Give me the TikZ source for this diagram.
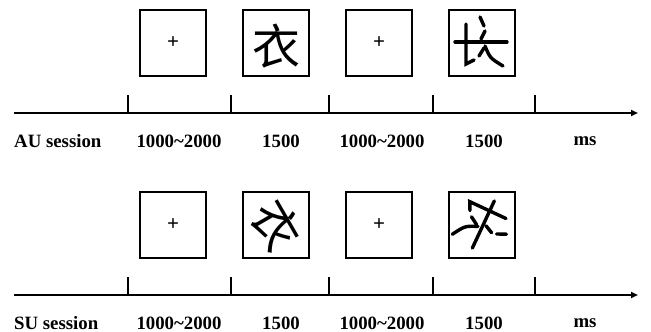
\documentclass[tikz,border=0pt]{standalone}
\usepackage{fontspec}
\setmainfont{Liberation Serif}
\newfontfamily\cjk{Noto Sans CJK SC}
\usetikzlibrary{arrows.meta, positioning}

\tikzset{
  stimbox/.style={draw, line width=2.2pt, minimum size=66pt, inner sep=0pt},
  fixcross/.style={font=\bfseries\fontsize{21}{21}\selectfont},
  hanzi/.style={font=\cjk\fontsize{48}{48}\selectfont, inner sep=0pt},
  lbl/.style={font=\bfseries\fontsize{18.8}{18.8}\selectfont, inner sep=0pt},
  timeaxis/.style={line width=1.8pt, -{Triangle[length=7pt,width=6pt]}},
  tickmark/.style={line width=1.8pt},
  pen/.style={line width=3.4pt, line cap=round}
}

% pseudocaracter
\newcommand{\pseudochar}{%
  \draw[pen] (-27,-1) -- (25,-1);
  \draw[pen] (-16,-19) -- (-16,21) -- (-8,17);
  \draw[pen] (-2,-26) -- (2,-17);
  \draw[pen] (3,-12) -- (-1,-4);
  \draw[pen] (2,5) -- (-3,13);
  \draw[pen] (3,3) .. controls (8,15) .. (21,23);
}

\begin{document}
\begin{tikzpicture}[x=1pt, y=-1pt]
\useasboundingbox (0,0) rectangle (651,332);
% Sesion AU
\begin{scope}[shift={(0,0)}]
\node[stimbox, fixcross] (au1) at (173,43) {+};
\node[stimbox] (au2) at (276,43) {};
\node[hanzi, yshift=-3pt] (au2c) at (au2.center) {衣};
\node[stimbox, fixcross] (au3) at (379,43) {+};
\node[stimbox] (au4) at (482,43) {};
\begin{scope}[shift={(482,43)}]
\pseudochar
\end{scope}
\coordinate (aus) at (14,113);
\coordinate (aue) at (638,113);
\draw[timeaxis] (aus) -- (aue);
\foreach \x in {128,231,329,433,535} {
    \draw[tickmark] (\x,113) -- (\x,95);
}
\node[lbl, anchor=west] (aulab) at (14,141) {AU session};
\foreach \x/\t [count=\i] in {179/{1000\textasciitilde2000}, 281/1500, 382/{1000\textasciitilde2000}, 484/1500, 585/ms} {
    \node[lbl] (aut\i) at (\x,141) {\t};
}
\end{scope}
% Sesion SU
\begin{scope}[shift={(0,182)}]
\node[stimbox, fixcross] (su1) at (173,43) {+};
\node[stimbox] (su2) at (276,43) {};
\node[hanzi, rotate=-60] (su2c) at (su2.center) {衣};
\node[stimbox, fixcross] (su3) at (379,43) {+};
\node[stimbox] (su4) at (482,43) {};
\begin{scope}[shift={(482,43)}, rotate=-115]
\pseudochar
\end{scope}
\coordinate (sus) at (14,113);
\coordinate (sue) at (638,113);
\draw[timeaxis] (sus) -- (sue);
\foreach \x in {128,231,329,433,535} {
    \draw[tickmark] (\x,113) -- (\x,95);
}
\node[lbl, anchor=west] (sulab) at (14,141) {SU session};
\foreach \x/\t [count=\i] in {179/{1000\textasciitilde2000}, 281/1500, 382/{1000\textasciitilde2000}, 484/1500, 585/ms} {
    \node[lbl] (sut\i) at (\x,141) {\t};
}
\end{scope}
\end{tikzpicture}
\end{document}
